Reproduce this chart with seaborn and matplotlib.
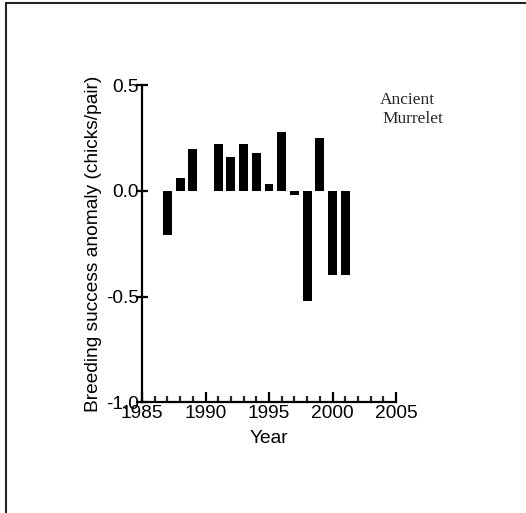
import pandas as pd
import matplotlib
matplotlib.use("Agg")
import matplotlib.pyplot as plt
from matplotlib.lines import Line2D
from matplotlib.ticker import MultipleLocator
import seaborn as sns

# ---------------------------------------------------------------
# Data
# ---------------------------------------------------------------
years = [1987, 1988, 1989, 1991, 1992, 1993, 1994, 1995, 1996, 1997, 1998, 1999, 2000, 2001]
anomaly = [-0.21, 0.06, 0.20, 0.22, 0.16, 0.22, 0.18, 0.03, 0.28, -0.02, -0.52, 0.25, -0.40, -0.40]
x_ticks = [1985, 1990, 1995, 2000, 2005]
y_ticks = [-1.0, -0.5, 0.0, 0.5]
y_tick_labels = ["-1.0", "-0.5", "0.0", "0.5"]

df = pd.DataFrame({"Year": years, "Anomaly": anomaly})

sns.set_style("white")
plt.rcParams["font.family"] = ["Liberation Sans", "DejaVu Sans"]

fig = plt.figure(figsize=(5.26, 5.13), dpi=100)
ax = fig.add_axes([0.270, 0.216, 0.483, 0.618])

sns.barplot(data=df, x="Year", y="Anomaly", native_scale=True, width=0.7,
            color="black", edgecolor="none", linewidth=0, errorbar=None,
            saturation=1, ax=ax)

ax.set_xlim(1985, 2005)
ax.set_ylim(-1.0, 0.5)
ax.set_xticks(x_ticks)
ax.set_xticklabels([str(t) for t in x_ticks])
ax.xaxis.set_minor_locator(MultipleLocator(1))
ax.set_yticks(y_ticks)
ax.set_yticklabels(y_tick_labels)

for side in ["top", "right"]:
    ax.spines[side].set_visible(False)
for side in ["left", "bottom"]:
    ax.spines[side].set_color("black")
    ax.spines[side].set_linewidth(1.6)

ax.tick_params(axis="x", which="major", direction="in", length=7.5, width=1.6,
               labelsize=13.8, pad=2, bottom=True, colors="black")
ax.tick_params(axis="x", which="minor", direction="in", length=4.5, width=1.6, bottom=True)
ax.tick_params(axis="y", which="major", direction="inout", length=8, width=1.6,
               labelsize=13.8, pad=-2, left=True, colors="black")

ax.set_xlabel("Year", fontsize=13.8, labelpad=6, color="black")
ax.set_ylabel("Breeding success anomaly (chicks/pair)", fontsize=13.8, labelpad=3, color="black")

fig.text(0.7225, 0.806, "Ancient", family=["Liberation Serif", "DejaVu Serif"],
         fontsize=12.5, ha="left", va="center")
fig.text(0.728, 0.769, "Murrelet", family=["Liberation Serif", "DejaVu Serif"],
         fontsize=12.5, ha="left", va="center")

# thin frame on the top and left edges of the picture
fig.add_artist(Line2D([0.012, 0.012], [0.0, 0.995], transform=fig.transFigure,
                      color="#222222", linewidth=1.5))
fig.add_artist(Line2D([0.012, 1.0], [0.995, 0.995], transform=fig.transFigure,
                      color="#222222", linewidth=1.5))

fig.savefig("out.png", dpi=100)
